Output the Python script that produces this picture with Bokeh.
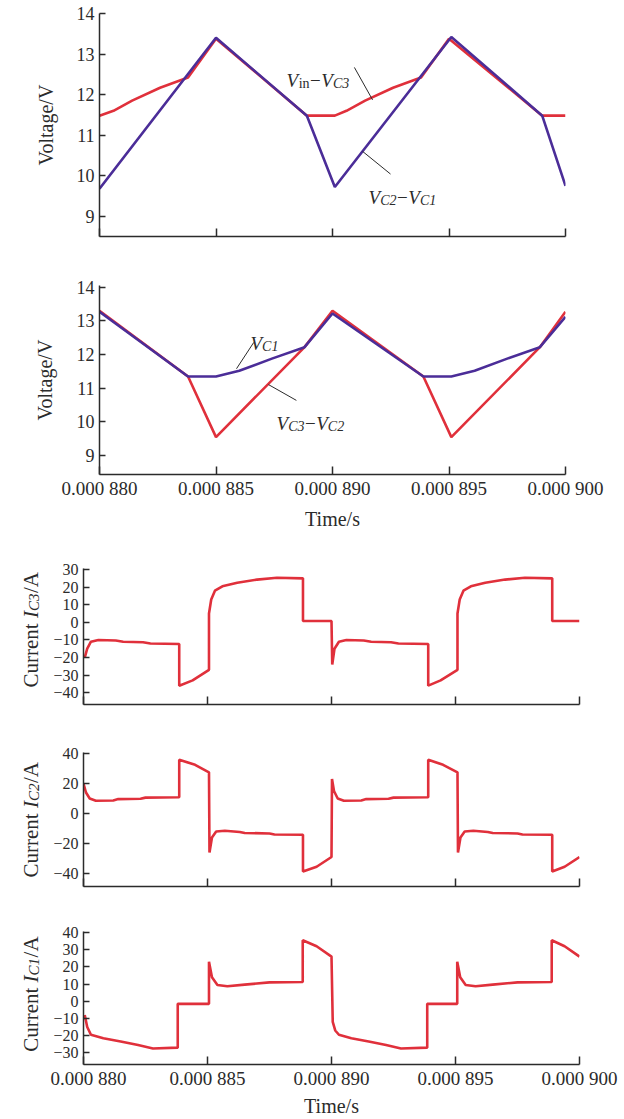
from math import pi
from bokeh.plotting import figure
from bokeh.layouts import column, row
from bokeh.models import Range1d, FixedTicker, Label
from bokeh.core.properties import value
from bokeh.embed import file_html
from bokeh.resources import INLINE

# ---------------- data (time in microseconds) ----------------
# panel 1
t_vin_vc3 = [880.0, 880.6, 881.4, 882.6, 883.8, 885.0, 888.9, 890.1, 890.6, 891.4, 892.6, 893.8, 895.0, 899.0, 900.0]
vin_vc3 = [11.48, 11.60, 11.85, 12.17, 12.42, 13.38, 11.48, 11.48, 11.60, 11.85, 12.17, 12.42, 13.38, 11.48, 11.48]
t_vc2_vc1 = [880.0, 885.0, 888.9, 890.1, 895.1, 899.0, 900.0]
vc2_vc1 = [9.68, 13.40, 11.48, 9.72, 13.42, 11.48, 9.75]

# panel 2
t_vc1 = [880.0, 883.8, 885.0, 886.0, 887.4, 888.8, 890.0, 893.9, 895.1, 896.1, 897.5, 898.9, 900.0]
vc1 = [13.27, 11.35, 11.35, 11.52, 11.88, 12.22, 13.22, 11.35, 11.35, 11.52, 11.88, 12.22, 13.12]
t_vc3_vc2 = [880.0, 883.8, 885.0, 888.8, 890.0, 893.9, 895.1, 898.9, 900.0]
vc3_vc2 = [13.30, 11.35, 9.55, 12.22, 13.30, 11.35, 9.55, 12.22, 13.27]

# panel 3
t_ic3 = [880.05, 880.15, 880.3, 880.6, 881.3, 881.6, 882.4, 882.7, 883.86, 883.86, 884.4,
         885.06, 885.06, 885.15, 885.3, 885.6, 886.2, 887.0, 887.8, 888.85, 888.85, 890.0,
         890.03, 890.12, 890.3, 890.6, 891.3, 891.6, 892.4, 892.7, 893.9, 893.9, 894.4,
         895.08, 895.08, 895.17, 895.32, 895.62, 896.2, 897.0, 897.8, 898.9, 898.9, 900.0]
ic3 = [-20, -15, -11, -10, -10.3, -11, -11.3, -12, -12.3, -36, -33,
       -27, 5, 13, 18, 20.5, 22.5, 24.3, 25.3, 25, 0.8, 0.8,
       -24, -15, -11, -10, -10.3, -11, -11.3, -12, -12.3, -36, -33,
       -27, 5, 13, 18, 20.5, 22.5, 24.3, 25.3, 25, 0.8, 0.8]

# panel 4
t_ic2 = [880.0, 880.1, 880.25, 880.5, 881.2, 881.4, 882.3, 882.5, 883.86, 883.86, 884.5, 885.06,
         885.08, 885.18, 885.35, 885.7, 886.3, 886.5, 887.5, 887.7, 888.85, 888.85, 889.4, 890.0,
         890.02, 890.1, 890.25, 890.5, 891.2, 891.4, 892.3, 892.5, 893.9, 893.9, 894.5, 895.08,
         895.1, 895.2, 895.37, 895.72, 896.3, 896.5, 897.5, 897.7, 898.9, 898.9, 899.4, 900.0]
ic2 = [20, 14, 10, 8.5, 8.7, 9.6, 9.8, 10.6, 10.8, 35.8, 32.5, 27.5,
       -26, -16, -12, -11.5, -12.3, -13, -13.3, -14, -14.2, -38.7, -35.5, -29,
       23, 15, 10, 8.5, 8.7, 9.6, 9.8, 10.6, 10.8, 35.8, 32.5, 27.5,
       -26, -16, -12, -11.5, -12.3, -13, -13.3, -14, -14.2, -38.7, -35.5, -29]

# panel 5
t_ic1 = [880.05, 880.15, 880.3, 880.8, 881.5, 882.2, 882.8, 883.8, 883.8, 885.06,
         885.06, 885.18, 885.4, 885.8, 886.5, 887.5, 888.84, 888.84, 889.4, 890.0,
         890.05, 890.15, 890.3, 890.8, 891.5, 892.2, 892.8, 893.86, 893.86, 895.07,
         895.07, 895.19, 895.41, 895.81, 896.5, 897.5, 898.88, 898.88, 899.4, 900.0]
ic1 = [-8, -15, -19.5, -21.5, -23.4, -25.5, -27.5, -27, -1.5, -1.5,
       23, 14, 9.5, 8.7, 9.7, 11, 11.2, 35.5, 32, 26,
       -12, -17, -19.5, -21.5, -23.4, -25.5, -27.5, -27, -1.5, -1.5,
       23, 14, 9.5, 8.7, 9.7, 11, 11.2, 35.5, 32, 26]

# ticks
x_ticks = [880, 885, 890, 895, 900]
x_tick_labels = ["0.000 880", "0.000 885", "0.000 890", "0.000 895", "0.000 900"]
v_ticks = [9, 10, 11, 12, 13, 14]
ic3_ticks = [-40, -30, -20, -10, 0, 10, 20, 30]
ic2_ticks = [-40, -20, 0, 20, 40]
ic1_ticks = [-30, -20, -10, 0, 10, 20, 30, 40]

# annotation anchors (data coords) and leader lines
lab_p1 = [(888.03, 12.35), (891.55, 9.46)]
lead_p1_x0 = [890.94, 891.29]; lead_p1_y0 = [12.67, 10.60]
lead_p1_x1 = [891.72, 892.49]; lead_p1_y1 = [11.87, 10.04]
lab_p2 = [(886.48, 12.33), (887.6, 9.94)]
lead_p2_x0 = [886.62, 887.25]; lead_p2_y0 = [12.36, 11.11]
lead_p2_x1 = [885.88, 888.45]; lead_p2_y1 = [11.58, 10.64]

RED = "#e0303b"
PURPLE = "#4b2d98"
FONT = "Liberation Serif"
INK = "#2b2b2b"

ROMAN_W = {'C': .667, 'u': .5, 'r': .333, 'e': .444, 'n': .5, 't': .278, ' ': .25, '/': .278,
           'A': .722, 'i': .278, '\u2212': .564}
ITALIC_W = {'I': .333, 'V': .611, 'C': .667, '1': .5, '2': .5, '3': .5}


def text_width(s, size, italic):
    table = ITALIC_W if italic else ROMAN_W
    return sum(table.get(c, 0.5) for c in s) * size


def rich_label(p, x, y, pieces):
    """Horizontal label made of pieces, anchored in data coords."""
    adv = 0.0
    for text, size, italic, drop, gap in pieces:
        adv += gap
        p.add_layout(Label(x=x, y=y, x_offset=adv, y_offset=-drop, text=text, text_font=FONT,
                           text_font_size=f"{size}px",
                           text_font_style="italic" if italic else "normal", text_color=INK,
                           text_align="left", text_baseline="alphabetic"))
        adv += text_width(text, size, italic)


def fmt(v):
    return ("\u2212" + str(abs(v))) if v < 0 else str(v)


def make_panel(width, height, b_top, b_bottom, b_left, b_right, y_lo, y_hi, yticks, ytick_size, xlabels):
    p = figure(width=width, height=height, x_range=Range1d(880, 900), y_range=Range1d(y_lo, y_hi),
               output_backend="svg", toolbar_location=None, title=None,
               min_border_top=b_top, min_border_bottom=b_bottom,
               min_border_left=b_left, min_border_right=b_right)
    p.outline_line_color = None
    p.xgrid.visible = False
    p.ygrid.visible = False
    p.background_fill_color = "white"
    p.border_fill_color = "white"
    for ax in (p.xaxis[0], p.yaxis[0]):
        ax.axis_line_color = INK
        ax.axis_line_width = 1.5
        ax.major_tick_line_color = INK
        ax.major_tick_line_width = 1.5
        ax.major_tick_out = 0
        ax.minor_tick_line_color = None
        ax.major_label_text_font = FONT
        ax.major_label_text_color = INK
        ax.axis_label_text_font = FONT
        ax.axis_label_text_font_style = "normal"
        ax.axis_label_text_color = INK
        ax.axis_label_text_font_size = "20px"
    xa = p.xaxis[0]
    xa.ticker = FixedTicker(ticks=x_ticks)
    xa.major_tick_in = 8
    if xlabels:
        xa.major_label_overrides = dict(zip(x_ticks, x_tick_labels))
        xa.major_label_text_font_size = "19px"
        xa.major_label_standoff = 3
    else:
        xa.major_label_text_font_size = "8px"
        xa.major_label_text_color = None
        xa.major_label_standoff = 0
    ya = p.yaxis[0]
    ya.ticker = FixedTicker(ticks=yticks)
    ya.major_tick_in = 6
    ya.major_label_overrides = {v: fmt(v) for v in yticks}
    ya.major_label_text_font_size = ytick_size
    ya.major_label_standoff = 5
    return p


def current_label_fig(height, b_top, b_bottom, start_y, sub):
    """Narrow figure holding the rotated 'Current I_Cx/A' label.
    Its frame is aligned with the neighbouring panel's frame, so the y range
    is set to that frame's pixel height (1 data unit = 1 px)."""
    frame_h = height - b_top - b_bottom
    lf = figure(width=50, height=height, x_range=Range1d(0, 50), y_range=Range1d(0, frame_h),
                output_backend="svg", toolbar_location=None, x_axis_type=None, y_axis_type=None,
                title=None, min_border_left=0, min_border_right=0,
                min_border_top=b_top, min_border_bottom=b_bottom)
    lf.outline_line_color = None
    lf.xgrid.visible = False
    lf.ygrid.visible = False
    lf.border_fill_color = "white"
    adv = 0.0
    for text, size, italic, drop, gap in [("Current ", 21, False, 0, 0), ("I", 21, True, 0, 0),
                                          (sub, 15, True, 3, 0), ("/A", 21, False, 0, 0.5)]:
        adv += gap
        lf.text(x=[30], y=[start_y], text=[text], angle=pi / 2, x_offset=drop, y_offset=-adv,
                text_font=value(FONT), text_font_size=value(f"{size}px"),
                text_font_style="italic" if italic else "normal", text_color=INK,
                text_align="left", text_baseline="alphabetic")
        adv += text_width(text, size, italic)
    return lf


# ---------------- panel 1 ----------------
p1 = make_panel(624, 256, 13, 20, 99, 59, 8.5, 14.0, v_ticks, "18px", False)
p1.yaxis.axis_label = "Voltage/V"
p1.yaxis.axis_label_standoff = 17
p1.line(t_vin_vc3, vin_vc3, line_color=RED, line_width=2.6)
p1.line(t_vc2_vc1, vc2_vc1, line_color=PURPLE, line_width=2.6)
p1.segment(x0=lead_p1_x0, y0=lead_p1_y0, x1=lead_p1_x1, y1=lead_p1_y1, line_color=INK, line_width=1)
rich_label(p1, lab_p1[0][0], lab_p1[0][1], [("V", 19, True, 0, 0), ("in", 14, False, 3, 0.5),
                                            ("\u2212", 19, False, 0, 0.5), ("V", 19, True, 0, 0.5),
                                            ("C3", 14, True, 3, 0)])
rich_label(p1, lab_p1[1][0], lab_p1[1][1], [("V", 19, True, 0, 0), ("C2", 14, True, 3, 0),
                                            ("\u2212", 19, False, 0, 0.5), ("V", 19, True, 0, 0.5),
                                            ("C1", 14, True, 3, 0)])

# ---------------- panel 2 ----------------
p2 = make_panel(624, 278, 29, 60, 99, 59, 8.44, 14.05, v_ticks, "18px", True)
p2.yaxis.axis_label = "Voltage/V"
p2.yaxis.axis_label_standoff = 18
p2.xaxis.axis_label = "Time/s"
p2.xaxis.axis_label_standoff = 6
p2.line(t_vc3_vc2, vc3_vc2, line_color=RED, line_width=2.6)
p2.line(t_vc1, vc1, line_color=PURPLE, line_width=2.6)
p2.segment(x0=lead_p2_x0, y0=lead_p2_y0, x1=lead_p2_x1, y1=lead_p2_y1, line_color=INK, line_width=1)
rich_label(p2, lab_p2[0][0], lab_p2[0][1], [("V", 19, True, 0, 0), ("C1", 14, True, 3, 0)])
rich_label(p2, lab_p2[1][0], lab_p2[1][1], [("V", 19, True, 0, 0), ("C3", 14, True, 3, 0),
                                            ("\u2212", 19, False, 0, 0.5), ("V", 19, True, 0, 0.5),
                                            ("C2", 14, True, 3, 0)])

# ---------------- panels 3-5 ----------------
p3 = make_panel(574, 190, 34, 20, 32, 45, -46.7, 30.6, ic3_ticks, "16px", False)
p3.line(t_ic3, ic3, line_color=RED, line_width=2.6)
p4 = make_panel(574, 182, 28, 20, 32, 45, -48.7, 40.7, ic2_ticks, "16px", False)
p4.line(t_ic2, ic2, line_color=RED, line_width=2.6)
p5 = make_panel(574, 213, 25, 52, 32, 45, -36.8, 40.6, ic1_ticks, "16px", True)
p5.xaxis.axis_label = "Time/s"
p5.xaxis.axis_label_standoff = 3
p5.line(t_ic1, ic1, line_color=RED, line_width=2.6)

lf3 = current_label_fig(190, 34, 20, 17, "C3")
lf4 = current_label_fig(182, 28, 20, 9, "C2")
lf5 = current_label_fig(213, 25, 52, 13, "C1")

layout = column(p1, p2, row(lf3, p3, spacing=0), row(lf4, p4, spacing=0), row(lf5, p5, spacing=0),
                spacing=0)
open("out.html", "w").write(file_html(layout, INLINE))
